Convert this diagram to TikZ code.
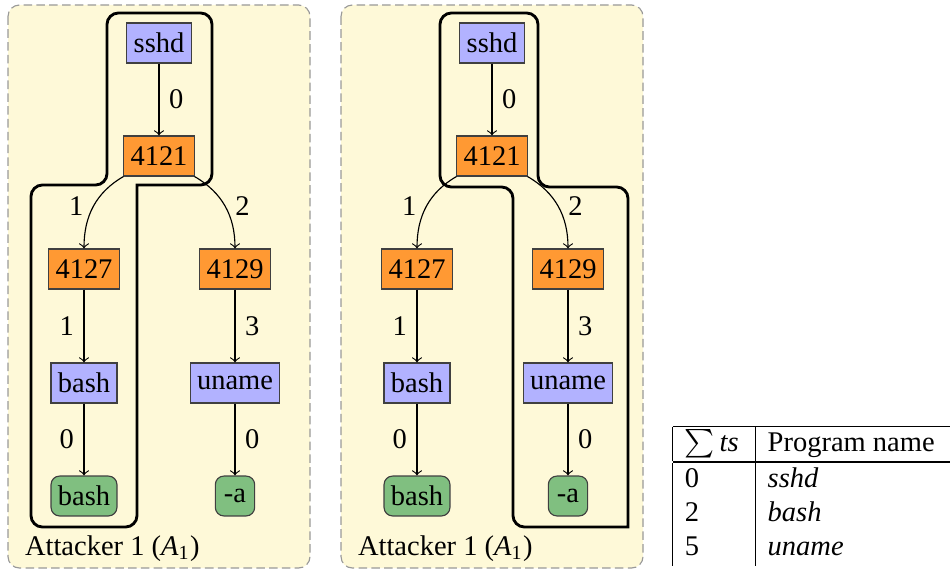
\documentclass[tikz,border=0pt]{standalone}
\usepackage{fontspec}
\setmainfont{Liberation Serif}
\definecolor{panelbg}{RGB}{254,249,216}
\tikzset{
  proc/.style={draw=black!75, fill=blue!30, inner xsep=2.4pt, minimum height=14pt},
  pid/.style={proc, fill=orange!80},
  arg/.style={proc, fill=green!50!black!50, rounded corners=3pt, minimum width=13.8pt},
  panel/.style={draw=gray!80, dash pattern=on 3pt off 1.5pt, fill=panelbg, rounded corners=4pt},
  attack/.style={line width=1pt, rounded corners=4pt, line cap=rect}
}
\setlength\tabcolsep{4.3pt}
\setlength\arrayrulewidth{0.6pt}
\begin{document}
\begin{tikzpicture}[x=0.351pt, y=-0.351pt]
\useasboundingbox (0,0) rectangle (950,571);
% two copies of the same process tree
\foreach \p/\dx in {a/0,b/333}{
  \begin{scope}[shift={(\dx,0)}]
    \draw[panel] (8,5) rectangle (310,568);
    \node[proc] (\p-sshd) at (159,43) {sshd};
    \node[pid] (\p-4121) at (159,156) {4121};
    \node[pid] (\p-4127) at (84,269) {4127};
    \node[pid] (\p-4129) at (235,269) {4129};
    \node[proc] (\p-bash) at (84,383) {bash};
    \node[proc] (\p-uname) at (235,383) {uname};
    \node[arg] (\p-bashleaf) at (84,496) {bash};
    \node[arg] (\p-aleaf) at (235,496) {-a};
    \draw[->] (\p-sshd) -- node[right] {0} (\p-4121);
    \draw[->] (\p-4121) to[out=210,in=90] node[left] {1} (\p-4127);
    \draw[->] (\p-4121) to[out=-30,in=90] node[right] {2} (\p-4129);
    \draw[->] (\p-4127) -- node[left] {1} (\p-bash);
    \draw[->] (\p-4129) -- node[right] {3} (\p-uname);
    \draw[->] (\p-bash) -- node[left] {0} (\p-bashleaf);
    \draw[->] (\p-uname) -- node[right] {0} (\p-aleaf);
    \node[anchor=base west] (\p-name) at (15,555) {Attacker 1 (\textit{A}\textsubscript{1})};
  \end{scope}
}
% the paths of the attacker (start corner left sharp)
\draw[attack] (137,185) -- (137,527) -- (31,527) -- (31,185) -- (107,185)
  -- (107,13) -- (212,13) -- (212,185) -- (137,185);
\draw[attack] (628,527) -- (513,527) -- (513,187) -- (440,187) -- (440,13)
  -- (538,13) -- (538,187) -- (628,187) -- (628,527);
% timestamps
\node[anchor=north west, inner sep=0pt] (tstable) at (672,425) {%
  \begin{tabular}{|p{20.5pt}|l@{\hspace{7pt}}}
    \hline
    $\sum$\,\textit{ts} & Program name\\
    \hline
    0 & \textit{sshd}\\
    2 & \textit{bash}\\
    5 & \textit{uname}
  \end{tabular}};
\end{tikzpicture}
\end{document}
